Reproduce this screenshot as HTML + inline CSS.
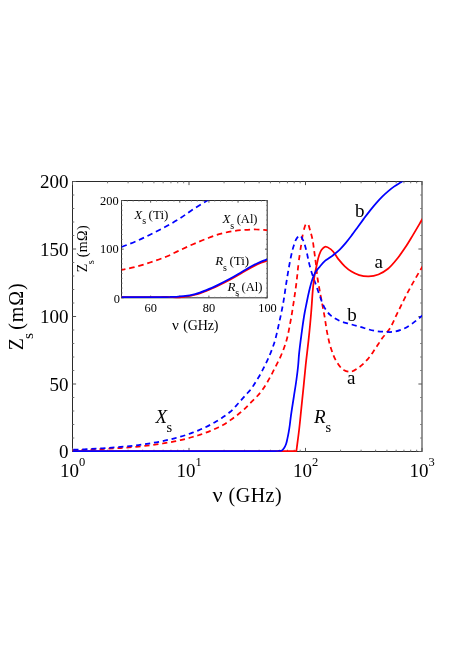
<!DOCTYPE html>
<html><head><meta charset="utf-8"><title>fig</title>
<style>
html,body{margin:0;padding:0;background:#fff;}
body{width:469px;height:663px;overflow:hidden;position:relative;font-family:"Liberation Serif",serif;color:#000;}
svg{position:absolute;left:0;top:0;}
text{font-family:"Liberation Serif",serif;fill:#000;}
svg{will-change:transform;opacity:0.999;}
.i{font-style:italic;}
</style></head><body>
<svg width="469" height="663" viewBox="0 0 469 663">
<rect x="0" y="0" width="469" height="663" fill="#fff"/>
<defs>
<clipPath id="cm"><rect x="72.5" y="181.5" width="349.5" height="271.2"/></clipPath>
<clipPath id="ci"><rect x="121.5" y="200.5" width="145.7" height="98.50000000000001"/></clipPath>
</defs>
<!-- frames & ticks -->
<g stroke="#2a2a2a" stroke-width="1.0" fill="none">
<rect x="72.5" y="181.5" width="349.5" height="270.0"/>
<g stroke="#555"><line x1="72.50" y1="451.50" x2="72.50" y2="447.90"/><line x1="72.50" y1="181.50" x2="72.50" y2="185.10"/><line x1="189.00" y1="451.50" x2="189.00" y2="447.90"/><line x1="189.00" y1="181.50" x2="189.00" y2="185.10"/><line x1="305.50" y1="451.50" x2="305.50" y2="447.90"/><line x1="305.50" y1="181.50" x2="305.50" y2="185.10"/><line x1="422.00" y1="451.50" x2="422.00" y2="447.90"/><line x1="422.00" y1="181.50" x2="422.00" y2="185.10"/><line x1="72.50" y1="451.50" x2="76.10" y2="451.50"/><line x1="422.00" y1="451.50" x2="418.40" y2="451.50"/><line x1="72.50" y1="384.00" x2="76.10" y2="384.00"/><line x1="422.00" y1="384.00" x2="418.40" y2="384.00"/><line x1="72.50" y1="316.50" x2="76.10" y2="316.50"/><line x1="422.00" y1="316.50" x2="418.40" y2="316.50"/><line x1="72.50" y1="249.00" x2="76.10" y2="249.00"/><line x1="422.00" y1="249.00" x2="418.40" y2="249.00"/><line x1="72.50" y1="181.50" x2="76.10" y2="181.50"/><line x1="422.00" y1="181.50" x2="418.40" y2="181.50"/></g>
<g stroke="#777"><line x1="107.57" y1="451.50" x2="107.57" y2="449.70"/><line x1="107.57" y1="181.50" x2="107.57" y2="183.30"/><line x1="128.08" y1="451.50" x2="128.08" y2="449.70"/><line x1="128.08" y1="181.50" x2="128.08" y2="183.30"/><line x1="142.64" y1="451.50" x2="142.64" y2="449.70"/><line x1="142.64" y1="181.50" x2="142.64" y2="183.30"/><line x1="153.93" y1="451.50" x2="153.93" y2="449.70"/><line x1="153.93" y1="181.50" x2="153.93" y2="183.30"/><line x1="163.15" y1="451.50" x2="163.15" y2="449.70"/><line x1="163.15" y1="181.50" x2="163.15" y2="183.30"/><line x1="170.95" y1="451.50" x2="170.95" y2="449.70"/><line x1="170.95" y1="181.50" x2="170.95" y2="183.30"/><line x1="177.71" y1="451.50" x2="177.71" y2="449.70"/><line x1="177.71" y1="181.50" x2="177.71" y2="183.30"/><line x1="183.67" y1="451.50" x2="183.67" y2="449.70"/><line x1="183.67" y1="181.50" x2="183.67" y2="183.30"/><line x1="224.07" y1="451.50" x2="224.07" y2="449.70"/><line x1="224.07" y1="181.50" x2="224.07" y2="183.30"/><line x1="244.58" y1="451.50" x2="244.58" y2="449.70"/><line x1="244.58" y1="181.50" x2="244.58" y2="183.30"/><line x1="259.14" y1="451.50" x2="259.14" y2="449.70"/><line x1="259.14" y1="181.50" x2="259.14" y2="183.30"/><line x1="270.43" y1="451.50" x2="270.43" y2="449.70"/><line x1="270.43" y1="181.50" x2="270.43" y2="183.30"/><line x1="279.65" y1="451.50" x2="279.65" y2="449.70"/><line x1="279.65" y1="181.50" x2="279.65" y2="183.30"/><line x1="287.45" y1="451.50" x2="287.45" y2="449.70"/><line x1="287.45" y1="181.50" x2="287.45" y2="183.30"/><line x1="294.21" y1="451.50" x2="294.21" y2="449.70"/><line x1="294.21" y1="181.50" x2="294.21" y2="183.30"/><line x1="300.17" y1="451.50" x2="300.17" y2="449.70"/><line x1="300.17" y1="181.50" x2="300.17" y2="183.30"/><line x1="340.57" y1="451.50" x2="340.57" y2="449.70"/><line x1="340.57" y1="181.50" x2="340.57" y2="183.30"/><line x1="361.08" y1="451.50" x2="361.08" y2="449.70"/><line x1="361.08" y1="181.50" x2="361.08" y2="183.30"/><line x1="375.64" y1="451.50" x2="375.64" y2="449.70"/><line x1="375.64" y1="181.50" x2="375.64" y2="183.30"/><line x1="386.93" y1="451.50" x2="386.93" y2="449.70"/><line x1="386.93" y1="181.50" x2="386.93" y2="183.30"/><line x1="396.15" y1="451.50" x2="396.15" y2="449.70"/><line x1="396.15" y1="181.50" x2="396.15" y2="183.30"/><line x1="403.95" y1="451.50" x2="403.95" y2="449.70"/><line x1="403.95" y1="181.50" x2="403.95" y2="183.30"/><line x1="410.71" y1="451.50" x2="410.71" y2="449.70"/><line x1="410.71" y1="181.50" x2="410.71" y2="183.30"/><line x1="416.67" y1="451.50" x2="416.67" y2="449.70"/><line x1="416.67" y1="181.50" x2="416.67" y2="183.30"/><line x1="72.50" y1="438.00" x2="74.30" y2="438.00"/><line x1="422.00" y1="438.00" x2="420.20" y2="438.00"/><line x1="72.50" y1="424.50" x2="74.30" y2="424.50"/><line x1="422.00" y1="424.50" x2="420.20" y2="424.50"/><line x1="72.50" y1="411.00" x2="74.30" y2="411.00"/><line x1="422.00" y1="411.00" x2="420.20" y2="411.00"/><line x1="72.50" y1="397.50" x2="74.30" y2="397.50"/><line x1="422.00" y1="397.50" x2="420.20" y2="397.50"/><line x1="72.50" y1="370.50" x2="74.30" y2="370.50"/><line x1="422.00" y1="370.50" x2="420.20" y2="370.50"/><line x1="72.50" y1="357.00" x2="74.30" y2="357.00"/><line x1="422.00" y1="357.00" x2="420.20" y2="357.00"/><line x1="72.50" y1="343.50" x2="74.30" y2="343.50"/><line x1="422.00" y1="343.50" x2="420.20" y2="343.50"/><line x1="72.50" y1="330.00" x2="74.30" y2="330.00"/><line x1="422.00" y1="330.00" x2="420.20" y2="330.00"/><line x1="72.50" y1="303.00" x2="74.30" y2="303.00"/><line x1="422.00" y1="303.00" x2="420.20" y2="303.00"/><line x1="72.50" y1="289.50" x2="74.30" y2="289.50"/><line x1="422.00" y1="289.50" x2="420.20" y2="289.50"/><line x1="72.50" y1="276.00" x2="74.30" y2="276.00"/><line x1="422.00" y1="276.00" x2="420.20" y2="276.00"/><line x1="72.50" y1="262.50" x2="74.30" y2="262.50"/><line x1="422.00" y1="262.50" x2="420.20" y2="262.50"/><line x1="72.50" y1="235.50" x2="74.30" y2="235.50"/><line x1="422.00" y1="235.50" x2="420.20" y2="235.50"/><line x1="72.50" y1="222.00" x2="74.30" y2="222.00"/><line x1="422.00" y1="222.00" x2="420.20" y2="222.00"/><line x1="72.50" y1="208.50" x2="74.30" y2="208.50"/><line x1="422.00" y1="208.50" x2="420.20" y2="208.50"/><line x1="72.50" y1="195.00" x2="74.30" y2="195.00"/><line x1="422.00" y1="195.00" x2="420.20" y2="195.00"/></g>
</g>
<!-- main curves -->
<g clip-path="url(#cm)" fill="none" stroke-width="1.75" stroke-linejoin="round">
<path id="rd" d="M72.50 450.15 C74.50 450.09 76.50 450.04 78.50 449.98 C80.50 449.92 82.50 449.86 84.50 449.79 C86.50 449.72 88.50 449.65 90.50 449.57 C92.50 449.50 94.50 449.42 96.50 449.33 C98.50 449.24 100.50 449.15 102.50 449.06 C104.50 448.96 106.50 448.86 108.50 448.75 C110.50 448.64 112.50 448.53 114.50 448.40 C116.50 448.28 118.50 448.15 120.50 448.01 C122.50 447.88 124.50 447.73 126.50 447.57 C128.50 447.42 130.50 447.26 132.50 447.08 C134.50 446.91 136.50 446.72 138.50 446.52 C140.50 446.33 142.50 446.12 144.50 445.90 C146.50 445.68 148.50 445.44 150.50 445.19 C152.50 444.94 154.50 444.68 156.50 444.40 C158.50 444.12 160.50 443.82 162.50 443.50 C164.50 443.19 166.50 442.85 168.50 442.50 C170.50 442.14 172.50 441.76 174.50 441.36 C176.50 440.96 178.51 440.54 180.50 440.09 C182.51 439.63 184.51 439.16 186.50 438.65 C188.51 438.14 190.51 437.60 192.50 437.03 C194.51 436.46 196.51 435.85 198.50 435.21 C200.51 434.56 202.51 433.88 204.50 433.16 C206.51 432.43 208.52 431.66 210.50 430.85 C212.52 430.03 214.52 429.16 216.50 428.25 C218.52 427.32 220.56 426.41 222.50 425.32 C225.11 423.87 227.55 422.11 230.00 420.40 C235.19 416.78 240.29 412.93 244.90 408.60 C247.01 406.62 248.96 404.46 251.00 402.40 C253.12 400.26 255.38 398.24 257.40 396.00 C259.08 394.14 260.71 392.22 262.20 390.20 C263.96 387.82 265.47 385.24 267.00 382.70 C268.88 379.57 270.60 376.33 272.30 373.10 C273.78 370.29 275.18 367.44 276.60 364.60 C278.01 361.77 279.52 358.98 280.80 356.10 C282.87 351.46 284.63 346.65 286.10 341.80 C287.99 335.54 289.06 329.03 290.30 322.60 C291.66 315.54 292.72 308.41 293.80 301.30 C294.73 295.21 295.62 289.11 296.40 283.00 C297.32 275.75 297.86 268.45 298.80 261.20 C299.54 255.49 300.36 249.78 301.30 244.10 C302.12 239.19 302.54 234.15 304.00 229.40 C304.53 227.68 304.79 225.77 305.80 224.30 C306.14 223.81 306.57 222.90 306.95 222.90 C307.33 222.90 307.77 223.81 308.10 224.30 C309.01 225.66 309.20 227.42 309.70 229.00 C310.74 232.29 311.68 235.63 312.40 239.00 C313.25 242.95 313.63 247.00 314.20 251.00 C314.84 255.53 315.44 260.06 316.00 264.60 C316.58 269.29 316.91 274.02 317.60 278.70 C318.16 282.48 318.92 286.24 319.60 290.00 C320.28 293.77 321.00 297.53 321.70 301.30 C322.63 306.27 323.62 311.22 324.50 316.20 C325.51 321.92 326.13 327.72 327.30 333.40 C328.37 338.57 329.40 343.81 331.10 348.80 C332.67 353.39 334.22 358.20 336.90 362.20 C338.77 365.00 340.75 368.31 343.60 369.90 C345.55 370.99 348.13 371.91 350.30 371.80 C352.97 371.66 355.61 369.53 358.00 368.00 C361.60 365.69 364.73 362.50 367.60 359.30 C370.47 356.10 372.73 352.34 375.20 348.80 C377.84 345.02 380.11 340.97 382.90 337.30 C384.65 335.00 386.72 332.94 388.40 330.60 C392.31 325.15 394.56 318.61 397.60 312.60 C400.83 306.21 403.86 299.73 407.20 293.40 C410.28 287.57 413.49 281.81 416.80 276.10 C418.67 272.88 420.60 269.70 422.50 266.50" stroke="#f00" stroke-dasharray="5.200 3.800 5.200 3.800 5.200 3.800 5.200 3.800 5.200 3.800 5.200 3.800 5.200 3.800 5.200 3.800 5.200 3.800 5.200 3.800 5.200 3.800 5.200 3.800 5.200 3.800 5.200 3.800 5.200 3.800 5.200 3.800 5.200 3.800 5.200 3.800 5.200 3.800 5.200 3.800 5.200 3.800 5.200 3.800 5.200 3.800 5.200 3.800 5.200 3.800 5.200 3.800 5.200 3.800 5.200 3.800 5.200 3.800 5.200 3.800 5.200 3.800 5.200 3.800 5.200 3.800 5.200 3.800 5.200 3.800 5.200 3.800 5.200 3.800 5.200 5.122 5.200 5.122 5.200 5.122 5.200 5.122 5.200 5.122 5.200 3.653 5.200 3.653 5.200 3.653 5.200 3.653 5.200 3.653 5.200 3.653 5.200 3.653 5.200 3.653 5.200 3.653 5.200 3.653 5.200 3.653 5.200 3.653 5.200 3.653 5.200 3.653 5.200 3.653 5.200 3.653 5.200 3.653 5.200 3.653 5.200 3.653 5.200 3.653 5.200 3.653 5.200 3.653 5.200 3.653 5.200 3.653 5.200 3.653 5.200 3.653 5.200 3.653 5.200 3.653 5.200 3.653 5.200 3.653 5.200 3.653 5.200 3.653 5.200 3.653 5.200 3.653 5.200 3.653 5.200 3.653 5.200 3.653 5.200 3.653 5.200 3.653 5.200 3.653"/>
<path id="bd" d="M72.50 449.75 C74.50 449.67 76.50 449.60 78.50 449.52 C80.50 449.45 82.50 449.36 84.50 449.28 C86.50 449.19 88.50 449.09 90.50 449.00 C92.50 448.90 94.50 448.79 96.50 448.68 C98.50 448.57 100.50 448.45 102.50 448.32 C104.50 448.20 106.50 448.07 108.50 447.92 C110.50 447.78 112.50 447.63 114.50 447.47 C116.50 447.32 118.50 447.15 120.50 446.97 C122.50 446.79 124.50 446.60 126.50 446.40 C128.50 446.20 130.50 445.98 132.50 445.75 C134.50 445.53 136.50 445.29 138.50 445.03 C140.50 444.78 142.50 444.51 144.50 444.22 C146.50 443.93 148.50 443.62 150.50 443.30 C152.50 442.97 154.50 442.63 156.50 442.27 C158.50 441.90 160.50 441.52 162.50 441.11 C164.50 440.69 166.51 440.26 168.50 439.80 C170.51 439.33 172.51 438.84 174.50 438.32 C176.51 437.80 178.51 437.25 180.50 436.66 C182.51 436.07 184.51 435.45 186.50 434.80 C188.51 434.13 190.51 433.43 192.50 432.69 C194.51 431.94 196.52 431.16 198.50 430.33 C200.52 429.48 202.52 428.59 204.50 427.66 C206.52 426.71 208.53 425.71 210.50 424.66 C212.53 423.58 214.53 422.45 216.50 421.28 C218.53 420.06 220.54 418.80 222.50 417.47 C225.06 415.74 227.65 414.00 230.00 412.00 C232.98 409.45 235.53 406.39 238.20 403.50 C240.76 400.72 243.19 397.82 245.70 395.00 C247.46 393.03 249.39 391.19 251.00 389.10 C252.79 386.78 254.23 384.19 255.80 381.70 C257.26 379.38 258.74 377.08 260.10 374.70 C261.59 372.09 262.95 369.39 264.30 366.70 C265.79 363.73 267.26 360.74 268.60 357.70 C270.57 353.22 272.37 348.64 273.90 344.00 C276.20 337.03 277.59 329.77 279.20 322.60 C280.79 315.53 282.25 308.43 283.50 301.30 C284.57 295.22 285.32 289.09 286.30 283.00 C287.01 278.56 287.72 274.12 288.50 269.70 C289.31 265.12 290.06 260.53 291.10 256.00 C291.95 252.31 292.73 248.56 294.00 245.00 C294.84 242.66 295.35 239.98 296.90 238.10 C297.71 237.12 298.93 235.56 299.80 235.50 C301.01 235.42 302.03 238.35 302.90 239.90 C304.48 242.72 305.10 246.06 306.00 249.20 C307.28 253.69 307.85 258.37 309.00 262.90 C310.02 266.90 311.13 270.88 312.40 274.80 C313.44 278.03 314.67 281.20 315.80 284.40 C317.28 288.60 318.65 292.83 320.20 297.00 C321.41 300.25 322.33 303.69 324.00 306.70 C325.71 309.77 327.82 312.86 330.40 315.20 C332.83 317.40 335.90 319.09 338.90 320.50 C342.26 322.08 346.01 322.83 349.60 323.90 C353.05 324.93 356.53 325.84 360.00 326.80 C364.83 328.14 369.57 329.96 374.50 330.80 C377.66 331.34 380.89 331.63 384.10 331.80 C387.29 331.97 390.57 332.25 393.70 331.80 C396.97 331.33 400.26 330.23 403.30 328.90 C406.70 327.42 409.84 325.23 412.90 323.10 C416.26 320.77 419.30 317.97 422.50 315.40" stroke="#00f" stroke-dasharray="5.2 3.8" stroke-dashoffset="8.2"/>
<path d="M72.50 451.00 L296.40 451.00 L296.40 451.00 C297.33 443.67 298.36 436.34 299.20 429.00 C300.02 421.88 300.66 414.73 301.40 407.60 C302.13 400.50 302.88 393.40 303.60 386.30 C304.32 379.20 304.95 372.09 305.70 365.00 C306.59 356.56 307.72 348.14 308.60 339.70 C309.57 330.48 310.47 321.24 311.20 312.00 C311.41 309.33 311.60 306.67 311.80 304.00 C312.14 299.40 312.37 294.79 312.80 290.20 C313.23 285.56 313.63 280.90 314.40 276.30 C314.99 272.74 315.81 269.22 316.60 265.70 C317.41 262.12 317.89 258.41 319.20 255.00 C319.88 253.23 320.45 251.27 321.60 249.80 C322.51 248.64 323.77 247.15 325.00 246.80 C326.85 246.27 329.40 248.34 331.20 249.60 C334.19 251.69 335.62 255.70 338.00 258.60 C340.17 261.25 342.30 263.97 344.80 266.30 C346.88 268.23 349.09 270.13 351.50 271.60 C353.89 273.06 356.53 274.30 359.20 275.10 C362.26 276.02 365.62 276.49 368.80 276.40 C372.02 276.30 375.39 275.62 378.40 274.50 C381.85 273.21 385.10 271.00 388.00 268.70 C391.68 265.79 394.63 261.88 397.60 258.20 C400.32 254.82 402.79 251.21 405.20 247.60 C407.92 243.53 410.37 239.29 412.90 235.10 C416.16 229.70 419.30 224.23 422.50 218.80" stroke="#f00"/>
<path d="M72.50 451.00 L270.00 451.00 C272.67 451.00 275.34 451.16 278.00 451.00 C279.17 450.93 280.50 451.16 281.50 450.70 C282.56 450.21 283.38 449.00 284.10 448.00 C284.92 446.86 285.49 445.51 286.00 444.20 C286.63 442.57 286.90 440.81 287.30 439.10 C287.79 436.98 288.21 434.84 288.60 432.70 C289.06 430.14 289.45 427.57 289.80 425.00 C290.10 422.77 290.32 420.53 290.60 418.30 C291.50 411.18 292.72 404.10 293.80 397.00 C294.66 391.33 295.63 385.68 296.40 380.00 C297.08 375.01 297.73 370.01 298.20 365.00 C298.53 361.54 298.68 358.06 299.00 354.60 C299.65 347.48 300.64 340.39 301.60 333.30 C302.57 326.19 303.49 319.06 304.80 312.00 C305.30 309.33 305.86 306.66 306.40 304.00 C307.27 299.73 308.07 295.44 309.10 291.20 C310.05 287.27 310.91 283.29 312.30 279.50 C313.22 276.98 314.11 274.37 315.50 272.10 C316.69 270.16 318.32 268.46 319.80 266.70 C321.47 264.71 323.03 262.56 325.00 260.90 C326.38 259.73 328.02 258.86 329.50 257.80 C331.22 256.57 332.95 255.33 334.60 254.00 C336.46 252.51 338.29 250.96 340.00 249.30 C342.15 247.21 344.08 244.90 346.00 242.60 C348.09 240.11 350.04 237.50 352.00 234.90 C354.04 232.20 356.00 229.43 358.00 226.70 C360.00 223.97 361.98 221.22 364.00 218.50 C365.98 215.85 367.95 213.19 370.00 210.60 C371.95 208.13 373.93 205.67 376.00 203.30 C377.94 201.08 379.91 198.88 382.00 196.80 C383.92 194.89 385.93 193.05 388.00 191.30 C389.94 189.66 391.92 188.06 394.00 186.60 C395.62 185.47 397.31 184.42 399.00 183.40 C400.32 182.61 401.67 181.87 403.00 181.10" stroke="#00f"/>
</g>
<!-- inset background -->
<rect x="121.5" y="200.5" width="145.7" height="97.30000000000001" fill="#fff"/>
<g stroke="#2a2a2a" stroke-width="1.0" fill="none">
<rect x="121.5" y="200.5" width="145.7" height="97.30000000000001"/>
<g stroke="#555"><line x1="121.50" y1="297.80" x2="121.50" y2="295.60"/><line x1="121.50" y1="200.50" x2="121.50" y2="202.70"/><line x1="150.64" y1="297.80" x2="150.64" y2="295.60"/><line x1="150.64" y1="200.50" x2="150.64" y2="202.70"/><line x1="179.78" y1="297.80" x2="179.78" y2="295.60"/><line x1="179.78" y1="200.50" x2="179.78" y2="202.70"/><line x1="208.92" y1="297.80" x2="208.92" y2="295.60"/><line x1="208.92" y1="200.50" x2="208.92" y2="202.70"/><line x1="238.06" y1="297.80" x2="238.06" y2="295.60"/><line x1="238.06" y1="200.50" x2="238.06" y2="202.70"/><line x1="267.20" y1="297.80" x2="267.20" y2="295.60"/><line x1="267.20" y1="200.50" x2="267.20" y2="202.70"/><line x1="121.50" y1="297.80" x2="123.70" y2="297.80"/><line x1="267.20" y1="297.80" x2="265.00" y2="297.80"/><line x1="121.50" y1="249.15" x2="123.70" y2="249.15"/><line x1="267.20" y1="249.15" x2="265.00" y2="249.15"/><line x1="121.50" y1="200.50" x2="123.70" y2="200.50"/><line x1="267.20" y1="200.50" x2="265.00" y2="200.50"/></g>
<g stroke="#777"><line x1="127.33" y1="297.80" x2="127.33" y2="296.80"/><line x1="127.33" y1="200.50" x2="127.33" y2="201.50"/><line x1="133.16" y1="297.80" x2="133.16" y2="296.80"/><line x1="133.16" y1="200.50" x2="133.16" y2="201.50"/><line x1="138.98" y1="297.80" x2="138.98" y2="296.80"/><line x1="138.98" y1="200.50" x2="138.98" y2="201.50"/><line x1="144.81" y1="297.80" x2="144.81" y2="296.80"/><line x1="144.81" y1="200.50" x2="144.81" y2="201.50"/><line x1="156.47" y1="297.80" x2="156.47" y2="296.80"/><line x1="156.47" y1="200.50" x2="156.47" y2="201.50"/><line x1="162.30" y1="297.80" x2="162.30" y2="296.80"/><line x1="162.30" y1="200.50" x2="162.30" y2="201.50"/><line x1="168.12" y1="297.80" x2="168.12" y2="296.80"/><line x1="168.12" y1="200.50" x2="168.12" y2="201.50"/><line x1="173.95" y1="297.80" x2="173.95" y2="296.80"/><line x1="173.95" y1="200.50" x2="173.95" y2="201.50"/><line x1="185.61" y1="297.80" x2="185.61" y2="296.80"/><line x1="185.61" y1="200.50" x2="185.61" y2="201.50"/><line x1="191.44" y1="297.80" x2="191.44" y2="296.80"/><line x1="191.44" y1="200.50" x2="191.44" y2="201.50"/><line x1="197.26" y1="297.80" x2="197.26" y2="296.80"/><line x1="197.26" y1="200.50" x2="197.26" y2="201.50"/><line x1="203.09" y1="297.80" x2="203.09" y2="296.80"/><line x1="203.09" y1="200.50" x2="203.09" y2="201.50"/><line x1="214.75" y1="297.80" x2="214.75" y2="296.80"/><line x1="214.75" y1="200.50" x2="214.75" y2="201.50"/><line x1="220.58" y1="297.80" x2="220.58" y2="296.80"/><line x1="220.58" y1="200.50" x2="220.58" y2="201.50"/><line x1="226.40" y1="297.80" x2="226.40" y2="296.80"/><line x1="226.40" y1="200.50" x2="226.40" y2="201.50"/><line x1="232.23" y1="297.80" x2="232.23" y2="296.80"/><line x1="232.23" y1="200.50" x2="232.23" y2="201.50"/><line x1="243.89" y1="297.80" x2="243.89" y2="296.80"/><line x1="243.89" y1="200.50" x2="243.89" y2="201.50"/><line x1="249.72" y1="297.80" x2="249.72" y2="296.80"/><line x1="249.72" y1="200.50" x2="249.72" y2="201.50"/><line x1="255.54" y1="297.80" x2="255.54" y2="296.80"/><line x1="255.54" y1="200.50" x2="255.54" y2="201.50"/><line x1="261.37" y1="297.80" x2="261.37" y2="296.80"/><line x1="261.37" y1="200.50" x2="261.37" y2="201.50"/><line x1="121.50" y1="292.94" x2="122.50" y2="292.94"/><line x1="267.20" y1="292.94" x2="266.20" y2="292.94"/><line x1="121.50" y1="288.07" x2="122.50" y2="288.07"/><line x1="267.20" y1="288.07" x2="266.20" y2="288.07"/><line x1="121.50" y1="283.20" x2="122.50" y2="283.20"/><line x1="267.20" y1="283.20" x2="266.20" y2="283.20"/><line x1="121.50" y1="278.34" x2="122.50" y2="278.34"/><line x1="267.20" y1="278.34" x2="266.20" y2="278.34"/><line x1="121.50" y1="273.48" x2="122.50" y2="273.48"/><line x1="267.20" y1="273.48" x2="266.20" y2="273.48"/><line x1="121.50" y1="268.61" x2="122.50" y2="268.61"/><line x1="267.20" y1="268.61" x2="266.20" y2="268.61"/><line x1="121.50" y1="263.75" x2="122.50" y2="263.75"/><line x1="267.20" y1="263.75" x2="266.20" y2="263.75"/><line x1="121.50" y1="258.88" x2="122.50" y2="258.88"/><line x1="267.20" y1="258.88" x2="266.20" y2="258.88"/><line x1="121.50" y1="254.01" x2="122.50" y2="254.01"/><line x1="267.20" y1="254.01" x2="266.20" y2="254.01"/><line x1="121.50" y1="244.28" x2="122.50" y2="244.28"/><line x1="267.20" y1="244.28" x2="266.20" y2="244.28"/><line x1="121.50" y1="239.42" x2="122.50" y2="239.42"/><line x1="267.20" y1="239.42" x2="266.20" y2="239.42"/><line x1="121.50" y1="234.56" x2="122.50" y2="234.56"/><line x1="267.20" y1="234.56" x2="266.20" y2="234.56"/><line x1="121.50" y1="229.69" x2="122.50" y2="229.69"/><line x1="267.20" y1="229.69" x2="266.20" y2="229.69"/><line x1="121.50" y1="224.82" x2="122.50" y2="224.82"/><line x1="267.20" y1="224.82" x2="266.20" y2="224.82"/><line x1="121.50" y1="219.96" x2="122.50" y2="219.96"/><line x1="267.20" y1="219.96" x2="266.20" y2="219.96"/><line x1="121.50" y1="215.09" x2="122.50" y2="215.09"/><line x1="267.20" y1="215.09" x2="266.20" y2="215.09"/><line x1="121.50" y1="210.23" x2="122.50" y2="210.23"/><line x1="267.20" y1="210.23" x2="266.20" y2="210.23"/><line x1="121.50" y1="205.37" x2="122.50" y2="205.37"/><line x1="267.20" y1="205.37" x2="266.20" y2="205.37"/></g>
</g>
<g clip-path="url(#ci)" fill="none" stroke-width="1.75" stroke-linejoin="round">
<path id="ird" d="M121.50 270.00 C126.00 269.00 130.54 268.15 135.00 267.00 C140.05 265.70 145.04 264.13 150.00 262.50 C155.83 260.58 161.66 258.61 167.30 256.20 C171.30 254.49 175.15 252.44 179.10 250.60 C183.75 248.43 188.39 246.24 193.10 244.20 C197.76 242.18 202.44 240.18 207.20 238.40 C211.85 236.66 216.51 234.87 221.30 233.60 C225.14 232.59 229.07 231.82 233.00 231.20 C236.87 230.59 240.79 230.18 244.70 229.90 C248.62 229.62 252.57 229.42 256.50 229.50 C260.17 229.58 263.83 230.03 267.50 230.30" stroke="#f00" stroke-dasharray="5.6 3.8" stroke-dashoffset="1.6"/>
<path id="ibd" d="M121.50 247.00 C126.00 245.23 130.56 243.60 135.00 241.70 C140.07 239.54 145.05 237.13 150.00 234.70 C155.05 232.23 160.06 229.67 165.00 227.00 C169.75 224.43 174.53 221.87 179.10 219.00 C183.91 215.99 188.33 212.38 193.10 209.30 C196.58 207.05 200.17 204.98 203.70 202.80 C205.80 201.50 207.90 200.20 210.00 198.90" stroke="#00f" stroke-dasharray="5.6 3.8" stroke-dashoffset="0"/>
<path d="M121.50 297.00 L160.00 297.00 C163.33 297.00 166.67 296.90 170.00 297.00 C172.13 297.06 174.27 297.33 176.40 297.30 C178.77 297.28 181.14 297.02 183.50 296.76 C187.43 296.32 191.38 295.73 195.20 294.75 C199.19 293.72 203.06 292.16 206.90 290.64 C210.86 289.06 214.74 287.25 218.60 285.43 C222.58 283.55 226.52 281.60 230.40 279.52 C234.36 277.39 238.20 275.05 242.10 272.81 C246.00 270.57 249.78 268.09 253.80 266.10 C256.22 264.90 258.69 263.76 261.20 262.76 C263.17 261.97 265.20 261.32 267.20 260.60" stroke="#f00"/>
<path d="M121.50 297.00 L160.00 297.00 C163.33 297.00 166.67 297.06 170.00 297.00 C172.13 296.96 174.27 296.92 176.40 296.80 C178.77 296.67 181.14 296.48 183.50 296.20 C187.43 295.73 191.38 295.11 195.20 294.10 C199.19 293.04 203.06 291.45 206.90 289.90 C210.87 288.30 214.74 286.45 218.60 284.60 C222.58 282.69 226.53 280.71 230.40 278.60 C234.36 276.45 238.20 274.07 242.10 271.80 C246.00 269.53 249.78 267.03 253.80 265.00 C256.22 263.78 258.69 262.62 261.20 261.60 C263.17 260.80 265.20 260.13 267.20 259.40" stroke="#00f"/>
</g>
<!-- main tick labels -->
<g font-size="19">
<text x="68.5" y="188.2" text-anchor="end">200</text>
<text x="68.5" y="255.7" text-anchor="end">150</text>
<text x="68.5" y="323.2" text-anchor="end">100</text>
<text x="68.5" y="390.7" text-anchor="end">50</text>
<text x="68.5" y="458.2" text-anchor="end">0</text>
<text x="59.90" y="477.1">10</text><text x="79.00" y="465.8" font-size="12.5">0</text>
<text x="176.40" y="477.1">10</text><text x="195.50" y="465.8" font-size="12.5">1</text>
<text x="292.90" y="477.1">10</text><text x="312.00" y="465.8" font-size="12.5">2</text>
<text x="409.40" y="477.1">10</text><text x="428.50" y="465.8" font-size="12.5">3</text>
</g>
<!-- axis labels -->
<g font-size="20">
<text transform="translate(212.5,502.0) scale(1.12,1.03)" x="0" y="0">ν</text><text x="228.5" y="502.0" textLength="53.2" lengthAdjust="spacing">(GHz)</text>
<g transform="translate(22.8,350.3) rotate(-90)">
<text x="0" y="0">Z</text><text x="11.3" y="10.6" font-size="15.5">s</text><text x="20.6" y="0" textLength="46.3" lengthAdjust="spacing">(mΩ)</text>
</g>
</g>
<!-- curve labels -->
<g font-size="19">
<text x="155.6" y="422.5" class="i">X</text><text x="166.6" y="431.8" font-size="14.5">s</text>
<text x="313.9" y="422.5" class="i">R</text><text x="325.5" y="431.8" font-size="14.5">s</text>
<text x="355.0" y="216.8">b</text>
<text x="374.6" y="267.8">a</text>
<text x="347.3" y="320.8">b</text>
<text x="346.9" y="383.7">a</text>
</g>
<!-- inset tick labels -->
<g font-size="12.4">
<text x="118.6" y="204.6" text-anchor="end">200</text>
<text x="118.6" y="253.25" text-anchor="end">100</text>
<text x="119.9" y="302.70000000000005" text-anchor="end">0</text>
<text x="150.64" y="311.8" text-anchor="middle">60</text>
<text x="208.92000000000002" y="311.8" text-anchor="middle">80</text>
<text x="267.5" y="311.8" text-anchor="middle">100</text>
</g>
<g font-size="14">
<text transform="translate(172.0,329.6) scale(1.08,1.0)" x="0" y="0">ν</text><text x="183.2" y="329.6" textLength="35.2" lengthAdjust="spacing">(GHz)</text>
<g transform="translate(86.5,272.3) rotate(-90)">
<text x="0" y="0">Z</text><text x="8.0" y="7.5" font-size="10.5">s</text><text x="15.0" y="0" textLength="31.9" lengthAdjust="spacing">(mΩ)</text>
</g>
</g>
<g font-size="13">
<text x="134.3" y="218.6" class="i">X</text><text x="142.20000000000002" y="223.9" font-size="10">s</text><text x="148.60000000000002" y="218.6">(Ti)</text>
<text x="222.4" y="223.1" class="i">X</text><text x="230.3" y="228.6" font-size="10">s</text><text x="236.70000000000002" y="223.1" font-size="12.5">(Al)</text>
<text x="215.3" y="264.9" class="i">R</text><text x="223.0" y="270.8" font-size="10">s</text><text x="229.4" y="264.9">(Ti)</text>
<text x="227.5" y="290.7" class="i">R</text><text x="235.2" y="296.2" font-size="10">s</text><text x="241.6" y="290.7" font-size="12.5">(Al)</text>
</g>
</svg>
</body></html>
